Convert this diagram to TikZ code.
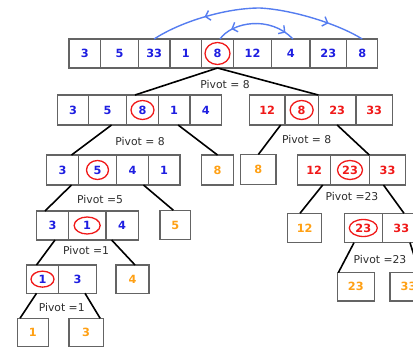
\documentclass[tikz,border=0pt]{standalone}
\usepackage{fontspec}
\setmainfont{DejaVu Sans}
\usetikzlibrary{arrows.meta,decorations.markings}
\definecolor{numblue}{RGB}{30,30,225}
\definecolor{numred}{RGB}{240,25,25}
\definecolor{numorange}{RGB}{255,160,20}
\definecolor{boxgrey}{RGB}{100,100,100}
\definecolor{arcblue}{RGB}{85,125,240}
\definecolor{pivgrey}{RGB}{45,45,45}
\begin{document}
\begin{tikzpicture}[x=1pt,y=-1pt,
  cell/.style={draw=boxgrey,line width=1.1pt,inner sep=0pt,outer sep=0pt,font=\fontsize{11.3}{11.3}\selectfont\bfseries},
  blu/.style={cell,text=numblue},
  rd/.style={cell,text=numred},
  org/.style={cell,text=numorange},
  ring/.style={draw=numred,line width=1.3pt},
  conn/.style={draw=black,line width=1.6pt},
  pivlab/.style={text=pivgrey,font=\fontsize{10.8}{10.8}\selectfont,inner sep=0pt},
  swaparc/.style={draw=arcblue,line width=1.4pt}
]
\useasboundingbox (0,0) rectangle (413,348);
\clip (0,0) rectangle (413,348);

% top row
\node[blu,minimum width=31.7,minimum height=29] (a1) at (84.85,53.5) {3};
\node[blu,minimum width=37.6,minimum height=29] (a2) at (119.5,53.5) {5};
\node[blu,minimum width=31.7,minimum height=29] (a3) at (154.15,53.5) {33};
\node[blu,minimum width=31.7,minimum height=29] (a4) at (185.85,53.5) {1};
\node[blu,minimum width=31.6,minimum height=29] (a5) at (217.5,53.5) {8};
\node[blu,minimum width=38.4,minimum height=29] (a6) at (252.5,53.5) {12};
\node[blu,minimum width=38.3,minimum height=29] (a7) at (290.85,53.5) {4};
\node[blu,minimum width=36.7,minimum height=29] (a8) at (328.35,53.5) {23};
\node[blu,minimum width=31,minimum height=29] (a9) at (362.2,53.5) {8};

% level 2
\node[blu,minimum width=30.6,minimum height=30] (b1) at (73,110) {3};
\node[blu,minimum width=38.4,minimum height=30] (b2) at (107.5,110) {5};
\node[blu,minimum width=31.6,minimum height=30] (b3) at (142.5,110) {8};
\node[blu,minimum width=31.7,minimum height=30] (b4) at (174.15,110) {1};
\node[blu,minimum width=31.7,minimum height=30] (b5) at (205.85,110) {4};
\node[rd,minimum width=35.7,minimum height=30] (c1) at (267.15,110) {12};
\node[rd,minimum width=33.3,minimum height=30] (c2) at (301.65,110) {8};
\node[rd,minimum width=37.7,minimum height=30] (c3) at (337.15,110) {23};
\node[rd,minimum width=36.3,minimum height=30] (c4) at (374.15,110) {33};

% level 3
\node[blu,minimum width=31.6,minimum height=30] (d1) at (62.5,170) {3};
\node[blu,minimum width=38.4,minimum height=30] (d2) at (97.5,170) {5};
\node[blu,minimum width=31.6,minimum height=30] (d3) at (132.5,170) {4};
\node[blu,minimum width=31.7,minimum height=30] (d4) at (164.15,170) {1};
\node[org,minimum width=31.6,minimum height=30] (e) at (217.5,170) {8};
\node[org,minimum width=35.3,minimum height=30] (f) at (258.35,169.5) {8};
\node[rd,minimum width=33,minimum height=30] (g1) at (314.2,170) {12};
\node[rd,minimum width=38.6,minimum height=30] (g2) at (350,170) {23};
\node[rd,minimum width=36.4,minimum height=30] (g3) at (387.5,170) {33};

% level 4
\node[blu,minimum width=31.6,minimum height=29] (h1) at (52.5,225.5) {3};
\node[blu,minimum width=37.7,minimum height=29] (h2) at (87.15,225.5) {1};
\node[blu,minimum width=32.3,minimum height=29] (h3) at (122.15,225.5) {4};
\node[org,minimum width=30.7,minimum height=29.5] (i) at (175.35,225) {5};
\node[org,minimum width=34,minimum height=29.4] (j) at (304.7,228) {12};
\node[rd,minimum width=38,minimum height=29.4] (k1) at (363.3,228) {23};
\node[rd,minimum width=38,minimum height=29.4] (k2) at (401.3,228) {33};

% level 5
\node[blu,minimum width=31.6,minimum height=28.3] (l1) at (42.5,279.15) {1};
\node[blu,minimum width=38.4,minimum height=28.3] (l2) at (77.5,279.15) {3};
\node[org,minimum width=33,minimum height=28.3] (m) at (132.5,279.15) {4};
\node[org,minimum width=37,minimum height=28.3] (n) at (355.8,286.85) {23};
\node[org,minimum width=37,minimum height=28.3] (o) at (408.5,286.85) {33};

% level 6
\node[org,minimum width=31,minimum height=28.4] (p) at (32.8,332.5) {1};
\node[org,minimum width=34.3,minimum height=28.4] (q) at (86.15,332.5) {3};

% pivot rings
\draw[ring] (a5.center) ellipse [x radius=12.5pt, y radius=11pt];
\draw[ring] (b3.center) ellipse [x radius=11.5pt, y radius=9.5pt];
\draw[ring] (c2.center) ellipse [x radius=11.5pt, y radius=9.5pt];
\draw[ring] (d2.center) ellipse [x radius=11pt, y radius=9.5pt];
\draw[ring] (g2.center) ellipse [x radius=12.5pt, y radius=9.5pt];
\draw[ring] (h2.center) ellipse [x radius=13pt, y radius=8.5pt];
\draw[ring] (k1.center) ellipse [x radius=14pt, y radius=8.5pt];
\draw[ring] (l1.center) ellipse [x radius=11.5pt, y radius=8pt];

% connectors
\draw[conn] (a5.south) -- ([xshift=-7.5pt]b3.north);
\draw[conn] (a5.south) -- (c2.north east);
\draw[conn] ([xshift=4pt]b2.south) -- ([xshift=9pt]d1.north);
\draw[conn] ([xshift=4pt]b4.south) -- (e.north);
\draw[conn] ([xshift=13.5pt]c1.south) -- (f.north);
\draw[conn] (c3.south) -- (g2.north east);
\draw[conn] ([xshift=9pt]d1.south) -- ([xshift=-7.5pt]h1.north);
\draw[conn] ([xshift=11pt]d3.south) -- ([xshift=-2pt]i.north);
\draw[conn] ([xshift=8.5pt]g1.south) -- ([xshift=-4.7pt]j.north);
\draw[conn] ([xshift=-4pt]g3.south) -- ([xshift=2.7pt]k2.north);
\draw[conn] ([xshift=2.5pt]h1.south) -- ([xshift=-6pt]l1.north);
\draw[conn] ([xshift=-10.5pt]h3.south) -- ([xshift=2.5pt]m.north);
\draw[conn] ([xshift=-9.3pt]k1.south) -- ([xshift=-17.5pt]n.north);
\draw[conn] ([xshift=8.7pt]k2.south) -- ([xshift=11pt]o.north);
\draw[conn] ([xshift=-6pt]l1.south) -- ([xshift=-12.8pt]p.north);
\draw[conn] ([xshift=7.5pt]l2.south) -- ([xshift=14pt]q.north);

% pivot labels
\node[pivlab] (pv1) at (225,84) {Pivot = 8};
\node[pivlab] (pv2) at (140,141.7) {Pivot = 8};
\node[pivlab] (pv3) at (306.7,139.6) {Pivot = 8};
\node[pivlab] (pv4) at (100,199.3) {Pivot =5};
\node[pivlab] (pv5) at (352,196) {Pivot =23};
\node[pivlab] (pv6) at (86,250.8) {Pivot =1};
\node[pivlab] (pv7) at (61.7,307) {Pivot =1};
\node[pivlab] (pv8) at (380,259) {Pivot =23};

% swap arcs
\draw[swaparc, postaction={decorate}, decoration={markings,
   mark=at position 0.28 with {\arrow{Straight Barb[reversed,length=4.5pt,width=10pt]}},
   mark=at position 0.83 with {\arrow{Straight Barb[length=4.5pt,width=10pt]}}}]
  (a3.north) .. controls (180,22) and (225,8) .. (260,8)
  .. controls (295,10) and (340,25) .. (a9.north);
\draw[swaparc, postaction={decorate}, decoration={markings,
   mark=at position 0.26 with {\arrow{Straight Barb[reversed,length=4.5pt,width=10pt]}},
   mark=at position 0.88 with {\arrow{Straight Barb[length=4.5pt,width=10pt]}}}]
  ([xshift=2.5pt]a5.north) .. controls (232,22) and (270,15) .. ([xshift=2pt]a7.north);
\end{tikzpicture}
\end{document}
